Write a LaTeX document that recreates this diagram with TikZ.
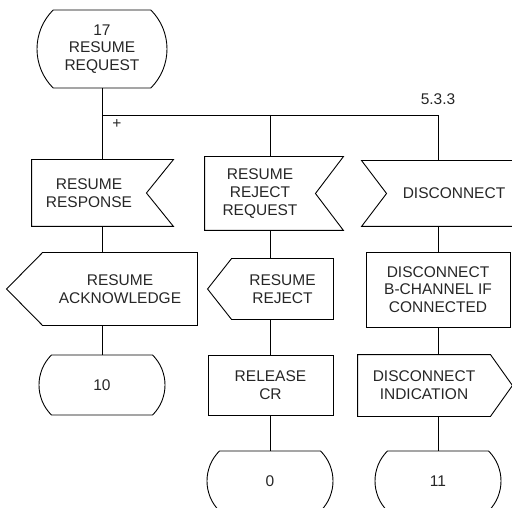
\documentclass[tikz,border=0pt]{standalone}
\usepackage{fontspec}
\setmainfont{Liberation Sans}
\usetikzlibrary{shapes.misc}
\newcommand\notchE[2]{\draw (#1.north west) -- ([xshift=#2]#1.north east) -- (#1.east) -- ([xshift=#2]#1.south east) -- (#1.south west) -- cycle;}
\newcommand\notchW[2]{\draw (#1.north east) -- ([xshift=-#2]#1.north west) -- (#1.west) -- ([xshift=-#2]#1.south west) -- (#1.south east) -- cycle;}
\newcommand\pointW[2]{\draw (#1.north east) -- (#1.north west) -- ([xshift=-#2]#1.west) -- (#1.south west) -- (#1.south east) -- cycle;}
\newcommand\pointE[2]{\draw (#1.north west) -- (#1.north east) -- ([xshift=#2]#1.east) -- (#1.south east) -- (#1.south west) -- cycle;}
\begin{document}
\begin{tikzpicture}[x=1pt,y=-1pt,line width=0.9pt,
  every node/.style={font=\fontsize{15.5}{17.7}\selectfont, align=center, inner sep=0pt, text=black!85},
  state/.style={draw, rounded rectangle, rounded rectangle arc length=90, minimum width=126pt, minimum height=60pt},
  task/.style={draw, rectangle},
  sig/.style={rectangle}]
\useasboundingbox (0,0) rectangle (512,508);
\clip (0,0) rectangle (512,508);
\node[state, minimum width=130pt, minimum height=78pt] (start) at (102,49) {17\\RESUME\\REQUEST};
\node[sig, minimum width=114pt, minimum height=66pt] (resp) at (89,193) {RESUME\\RESPONSE};
\node[sig, minimum width=110pt, minimum height=73pt] (rrr) at (260,193.5) {RESUME\\REJECT\\REQUEST};
\node[sig, minimum width=134pt, minimum height=65pt] (discin) at (454,193.5) {DISCONNECT};
\node[sig, minimum width=154pt, minimum height=72pt] (ack) at (120,289) {RESUME\\ACKNOWLEDGE};
\node[sig, minimum width=101pt, minimum height=60pt] (rej) at (282.5,289) {RESUME\\REJECT};
\node[task, minimum width=144pt, minimum height=75pt] (discb) at (438,289.5) {DISCONNECT\\B-CHANNEL IF\\CONNECTED};
\node[sig, minimum width=132pt, minimum height=61pt] (ind) at (424,385.5) {DISCONNECT\\INDICATION};
\node[task, minimum width=125pt, minimum height=60pt] (rel) at (270.5,385) {RELEASE\\CR};
\node[state] (s10) at (102,385) {10};
\node[state] (s0) at (270,481) {0};
\node[state] (s11) at (438,481) {11};
\node (plus) at (117,124) {+};
\node (ref) at (438,99) {5.3.3};
\notchE{resp}{27pt}
\notchE{rrr}{28pt}
\notchW{discin}{25pt}
\pointW{ack}{36pt}
\pointW{rej}{24pt}
\pointE{ind}{22pt}
\coordinate (c2) at (270,115);
\coordinate (c3) at (438,115);
\draw (start.south) -- (start.south |- resp.north);
\draw (start.south |- c2) -- (c3) -- (c3 |- discin.north);
\draw (c2) -- (c2 |- rrr.north);
\draw (start.south |- resp.south) -- (start.south |- ack.north);
\draw (start.south |- ack.south) -- (s10.north);
\draw (c2 |- rrr.south) -- (c2 |- rej.north);
\draw (c2 |- rej.south) -- (c2 |- rel.north);
\draw (c2 |- rel.south) -- (s0.north);
\draw (c3 |- discin.south) -- (discb.north);
\draw (discb.south) -- (c3 |- ind.north);
\draw (c3 |- ind.south) -- (s11.north);
\end{tikzpicture}
\end{document}
